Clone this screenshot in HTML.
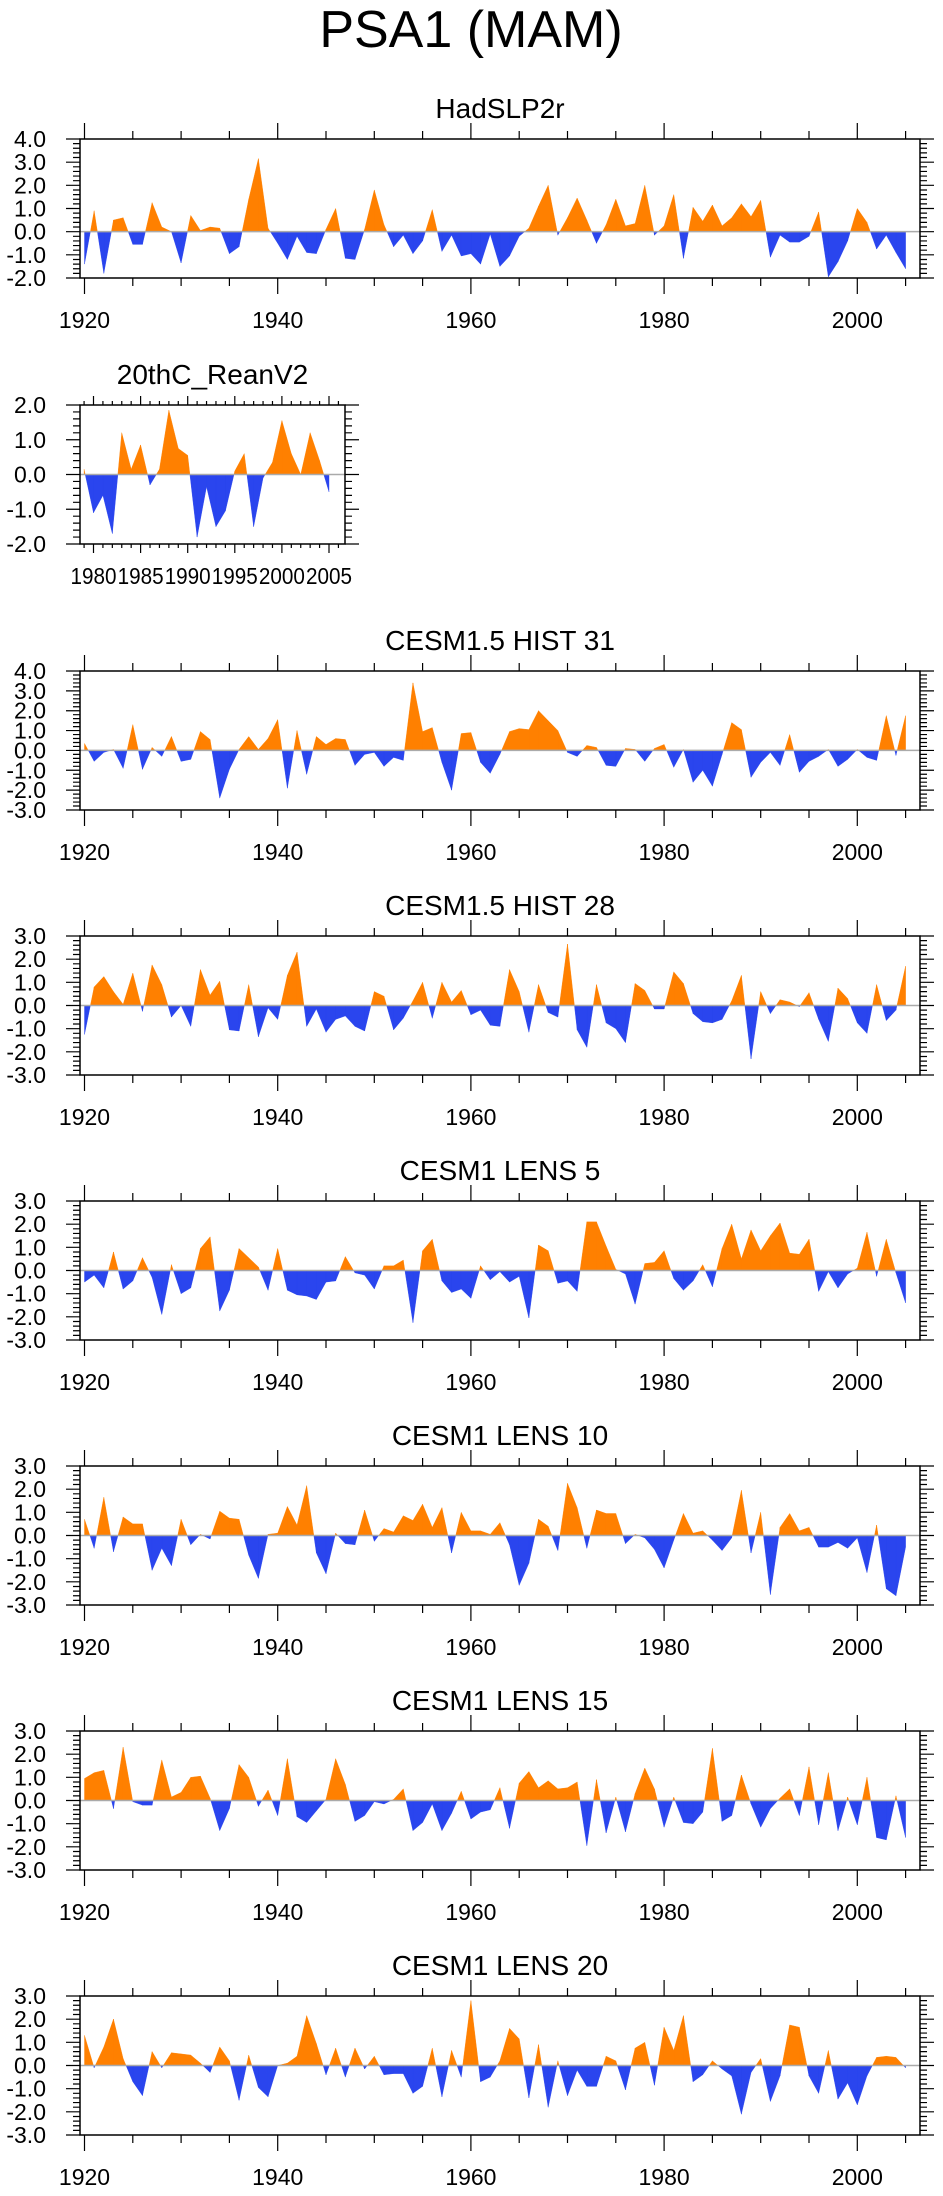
<!DOCTYPE html>
<html><head><meta charset="utf-8"><style>
body{margin:0;background:#fff;}
svg{display:block;font-family:"Liberation Sans",Arial,sans-serif;}
</style></head><body>
<svg id="chart" width="943" height="2196" viewBox="0 0 943 2196" xmlns="http://www.w3.org/2000/svg">
<text x="471" y="47" font-size="52" text-anchor="middle">PSA1 (MAM)</text>
</svg>
<script>
const yearsMain = [];
for (let y = 1920; y <= 2005; y++) yearsMain.push(y);
const yearsRean = [];
for (let y = 1979; y <= 2005; y++) yearsRean.push(y);

const titles = ["HadSLP2r","20thC_ReanV2","CESM1.5 HIST 31","CESM1.5 HIST 28","CESM1 LENS 5","CESM1 LENS 10","CESM1 LENS 15","CESM1 LENS 20"];

const hadslp = [-1.4,0.9,-1.8,0.5,0.6,-0.55,-0.55,1.25,0.2,0.0,-1.35,0.7,0.05,0.2,0.15,-0.95,-0.65,1.4,3.15,0.15,-0.5,-1.2,-0.2,-0.9,-0.95,0.1,1.0,-1.15,-1.2,0.1,1.8,0.3,-0.65,-0.15,-0.95,-0.4,0.95,-0.85,-0.15,-1.05,-0.95,-1.4,-0.1,-1.5,-1.05,-0.2,0.15,1.1,2.0,-0.15,0.6,1.45,0.5,-0.5,0.3,1.4,0.25,0.35,2.0,-0.15,0.25,1.6,-1.15,1.05,0.45,1.15,0.25,0.6,1.2,0.65,1.35,-1.1,-0.15,-0.45,-0.45,-0.2,0.85,-1.95,-1.3,-0.4,1.0,0.4,-0.75,-0.15,-0.9,-1.6];
const rean = [0.15,-1.1,-0.6,-1.7,1.2,0.15,0.85,-0.3,0.15,1.85,0.75,0.55,-1.8,-0.35,-1.5,-1.05,0.1,0.6,-1.5,-0.1,0.35,1.55,0.6,0.0,1.2,0.4,-0.5];
const hist31 = [0.35,-0.55,-0.1,0.05,-0.9,1.3,-0.95,0.15,-0.3,0.7,-0.55,-0.45,0.95,0.55,-2.4,-0.95,0.05,0.7,0.05,0.6,1.55,-1.9,1.0,-1.2,0.7,0.3,0.6,0.55,-0.75,-0.2,-0.1,-0.8,-0.35,-0.5,3.4,0.95,1.15,-0.6,-2.0,0.85,0.9,-0.6,-1.15,-0.2,0.95,1.1,1.05,2.0,1.5,1.0,-0.1,-0.3,0.25,0.15,-0.75,-0.8,0.1,0.05,-0.55,0.1,0.3,-0.85,0.05,-1.6,-1.0,-1.8,-0.2,1.4,1.05,-1.35,-0.6,-0.1,-0.75,0.8,-1.1,-0.55,-0.3,0.05,-0.8,-0.45,0.05,-0.35,-0.5,1.75,-0.25,1.75];
const hist28 = [-1.25,0.8,1.25,0.6,0.05,1.4,-0.25,1.75,0.9,-0.5,0.0,-0.9,1.55,0.45,1.05,-1.05,-1.1,0.9,-1.35,-0.1,-0.6,1.3,2.3,-0.9,-0.15,-1.15,-0.6,-0.45,-0.9,-1.1,0.6,0.4,-1.05,-0.55,0.2,1.0,-0.55,1.0,0.15,0.65,-0.4,-0.2,-0.85,-0.9,1.55,0.6,-1.15,0.9,-0.3,-0.5,2.65,-1.05,-1.8,0.9,-0.75,-1.0,-1.6,0.95,0.65,-0.15,-0.15,1.45,0.95,-0.35,-0.7,-0.75,-0.6,0.2,1.3,-2.3,0.6,-0.35,0.25,0.15,-0.05,0.55,-0.6,-1.55,0.75,0.3,-0.75,-1.2,0.9,-0.65,-0.2,1.7];
const lens5 = [-0.5,-0.2,-0.75,0.8,-0.8,-0.45,0.55,-0.3,-1.9,0.25,-1.0,-0.75,0.95,1.45,-1.75,-0.85,0.95,0.55,0.15,-0.85,0.95,-0.85,-1.05,-1.1,-1.25,-0.5,-0.45,0.6,-0.1,-0.2,-0.8,0.2,0.2,0.45,-2.25,0.85,1.35,-0.45,-0.95,-0.8,-1.2,0.2,-0.4,-0.05,-0.5,-0.25,-2.05,1.1,0.85,-0.55,-0.45,-0.9,2.1,2.1,1.05,0.05,-0.15,-1.45,0.3,0.35,0.85,-0.35,-0.85,-0.45,0.25,-0.7,0.95,2.0,0.5,1.75,0.85,1.5,2.05,0.75,0.7,1.35,-0.9,-0.05,-0.75,-0.15,0.1,1.65,-0.25,1.35,-0.1,-1.4];
const lens10 = [0.7,-0.55,1.65,-0.7,0.8,0.5,0.5,-1.5,-0.55,-1.3,0.7,-0.4,0.05,-0.15,1.05,0.75,0.7,-0.85,-1.85,0.05,0.1,1.25,0.45,2.15,-0.75,-1.65,0.1,-0.35,-0.4,1.1,-0.25,0.3,0.15,0.85,0.65,1.35,0.35,1.2,-0.75,1.0,0.2,0.2,0.05,0.55,-0.4,-2.15,-1.2,0.7,0.4,-0.65,2.25,1.2,-0.55,1.1,0.95,0.95,-0.35,0.05,-0.1,-0.6,-1.4,-0.2,0.95,0.1,0.2,-0.2,-0.65,-0.1,1.95,-0.75,1.0,-2.55,0.35,0.95,0.2,0.35,-0.5,-0.5,-0.3,-0.55,-0.1,-1.6,0.45,-2.3,-2.6,-0.5];
const lens15 = [0.95,1.2,1.3,-0.35,2.3,-0.05,-0.2,-0.2,1.75,0.15,0.35,1.0,1.05,0.1,-1.3,-0.35,1.55,1.0,-0.25,0.45,-0.65,1.8,-0.7,-0.95,-0.45,0.05,1.8,0.7,-0.9,-0.65,-0.05,-0.15,0.05,0.5,-1.3,-0.95,-0.15,-1.3,-0.55,0.4,-0.8,-0.5,-0.4,0.55,-1.2,0.75,1.25,0.55,0.85,0.5,0.55,0.8,-1.95,0.9,-1.4,0.15,-1.35,0.3,1.4,0.5,-1.15,0.15,-0.95,-1.0,-0.5,2.25,-0.9,-0.65,1.1,-0.15,-1.15,-0.35,0.1,0.5,-0.65,1.45,-1.05,1.2,-1.3,0.15,-1.05,1.0,-1.6,-1.7,0.2,-1.6];
const lens20 = [1.3,-0.1,0.8,2.0,0.3,-0.7,-1.3,0.6,-0.1,0.55,0.5,0.45,0.1,-0.3,0.8,0.2,-1.5,0.45,-0.95,-1.35,0.0,0.1,0.4,2.15,0.95,-0.4,0.75,-0.5,0.75,-0.15,0.4,-0.4,-0.35,-0.35,-1.2,-0.9,0.75,-1.35,0.65,-0.5,2.8,-0.7,-0.5,0.2,1.6,1.15,-1.4,0.9,-1.8,0.2,-1.3,-0.2,-0.9,-0.9,0.4,0.2,-1.05,0.75,1.0,-0.85,1.65,0.65,2.15,-0.7,-0.4,0.2,-0.15,-0.45,-2.1,-0.3,0.3,-1.55,-0.45,1.75,1.65,-0.45,-1.2,0.65,-1.45,-0.75,-1.7,-0.45,0.35,0.4,0.35,-0.1];

const seriesList = [hadslp, rean, hist31, hist28, lens5, lens10, lens15, lens20];
const yMinList = [-2,-2,-3,-3,-3,-3,-3,-3];
const yMaxList = [4,2,4,3,3,3,3,3];
const yStepLabels = [["4.0","3.0","2.0","1.0","0.0","-1.0","-2.0"],["2.0","1.0","0.0","-1.0","-2.0"],["4.0","3.0","2.0","1.0","0.0","-1.0","-2.0","-3.0"],["3.0","2.0","1.0","0.0","-1.0","-2.0","-3.0"]];
const xTickLabelsMain = ["1920","1940","1960","1980","2000"];
const xTickLabelsRean = ["1980","1985","1990","1995","2000","2005"];

const NS = "http://www.w3.org/2000/svg";
const svg = document.getElementById('chart');
function mk(tag, attrs, parent) {
  const e = document.createElementNS(NS, tag);
  for (const k in attrs) e.setAttribute(k, attrs[k]);
  (parent || svg).appendChild(e);
  return e;
}

const panelTops = [139, 405, 671, 936, 1201, 1466, 1731, 1996];
const PH = 139;

function drawPanel(i) {
  const isRean = i === 1;
  const years = isRean ? yearsRean : yearsMain;
  const vals = seriesList[i];
  const top = panelTops[i], bot = top + PH;
  const L = 80, R = isRean ? 345 : 920;
  const x0 = isRean ? 93.5 : 84.5, y0yr = isRean ? 1980 : 1920, pxYr = isRean ? 9.42 : 9.66;
  const ymin = yMinList[i], ymax = yMaxList[i];
  const xs = yr => x0 + (yr - y0yr) * pxYr;
  const ys = v => bot - (v - ymin) / (ymax - ymin) * PH;

  const g = mk('g', {});
  
  

  const t = mk('text', {x: (L + R) / 2, y: top - 21, 'font-size': 28, 'text-anchor': 'middle'}, g);
  t.textContent = titles[i];
  
  

  const zy = ys(0);
  let posD = '', negD = '';
  for (let k = 0; k < vals.length - 1; k++) {
    const xa = xs(years[k]), xb = xs(years[k + 1]), a = vals[k], b = vals[k + 1];
    const seg = (p, q, xp, xq) => `M${xp},${zy}L${xp},${ys(p)}L${xq},${ys(q)}L${xq},${zy}Z`;
    if ((a >= 0 && b >= 0)) posD += seg(a, b, xa, xb);
    else if (a <= 0 && b <= 0) negD += seg(a, b, xa, xb);
    else {
      const xc = xa + (xb - xa) * (a / (a - b));
      if (a > 0) { posD += `M${xa},${zy}L${xa},${ys(a)}L${xc},${zy}Z`; negD += `M${xc},${zy}L${xb},${ys(b)}L${xb},${zy}Z`; }
      else { negD += `M${xa},${zy}L${xa},${ys(a)}L${xc},${zy}Z`; posD += `M${xc},${zy}L${xb},${ys(b)}L${xb},${zy}Z`; }
    }
  }
  const pp = mk('path', {d: posD, fill: '#ff8000', stroke: '#ff8000', 'stroke-width': 0.4}, g);
  
  
  const np = mk('path', {d: negD, fill: '#2a45ee', stroke: '#2a45ee', 'stroke-width': 0.4}, g);
  
  

  const zl = mk('line', {x1: L, x2: R, y1: zy, y2: zy, stroke: '#aaaaaa', 'stroke-width': 1.5}, g);
  
  

  const fr = mk('rect', {x: L, y: top, width: R - L, height: PH, fill: 'none', stroke: '#000', 'stroke-width': 1.5}, g);
  
  

  const labels = isRean ? yStepLabels[1] : (ymin === -2 ? yStepLabels[0] : (ymax === 4 ? yStepLabels[2] : yStepLabels[3]));
  let tk = '';
  for (let v = ymin; v <= ymax + 1e-6; v += 0.2) {
    const y = ys(v);
    const major = Math.abs(v - Math.round(v)) < 1e-6;
    const len = major ? 14 : 7;
    tk += `M${L - len},${y}L${L},${y}M${R},${y}L${R + len},${y}`;
  }
  labels.forEach(lbl => {
    const tx = mk('text', {x: 46, y: ys(parseFloat(lbl)) + 8, 'font-size': 23, 'text-anchor': 'end'}, g);
    tx.textContent = lbl;
    
    
  });
  if (isRean) {
    for (let yr = 1979; yr <= 2006; yr++) {
      const x = xs(yr), len = yr % 5 === 0 ? 9 : 4;
      if (x < L || x > R) continue;
      tk += `M${x},${top}L${x},${top - len}M${x},${bot}L${x},${bot + len}`;
    }
    xTickLabelsRean.forEach(lbl => {
      const tx = mk('text', {x: xs(+lbl), y: bot + 40, 'font-size': 23, 'text-anchor': 'middle', textLength: 46, lengthAdjust: 'spacingAndGlyphs'}, g);
      tx.textContent = lbl;
      
      
    });
  } else {
    for (let yr = 1920; yr <= 2005; yr += 5) {
      const x = xs(yr), len = yr % 20 === 0 ? 16 : 8;
      tk += `M${x},${top}L${x},${top - len}M${x},${bot}L${x},${bot + len}`;
    }
    xTickLabelsMain.forEach(lbl => {
      const tx = mk('text', {x: xs(+lbl), y: bot + 50, 'font-size': 23, 'text-anchor': 'middle'}, g);
      tx.textContent = lbl;
      
      
    });
  }
  const tp = mk('path', {d: tk, stroke: '#000', 'stroke-width': 1.2, fill: 'none'}, g);
  
  
}
for (let i = 0; i < 8; i++) drawPanel(i);
</script>
</body></html>
